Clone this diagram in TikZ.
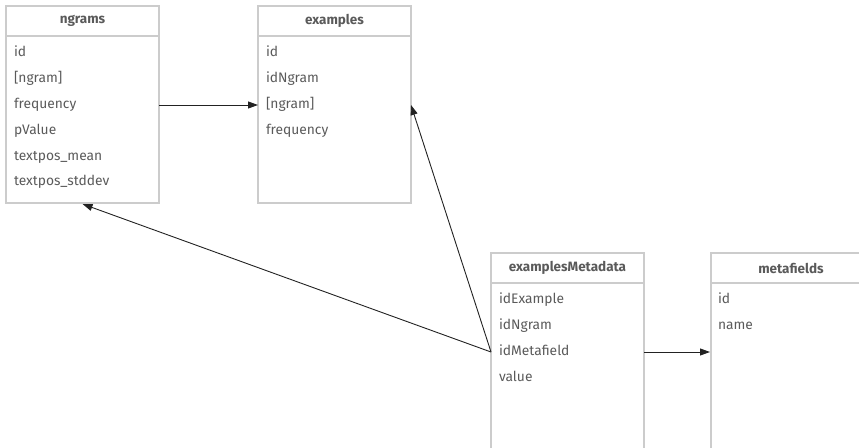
\documentclass[tikz,border=0pt]{standalone}
\usepackage{fontspec}
\setmainfont{Fira Sans}
\usetikzlibrary{arrows.meta,positioning}
\definecolor{tableline}{HTML}{CCCCCC}
\definecolor{fieldtext}{HTML}{5A5A5A}
\definecolor{linkdark}{HTML}{222222}

\tikzset{
  tablebox/.style={draw=tableline, line width=2pt, minimum width=153pt, anchor=north west, inner sep=0pt},
  tablehead/.style={draw=tableline, line width=2pt, minimum width=153pt, minimum height=30pt, inner sep=0pt,
    font=\fontsize{13.5}{15}\selectfont\bfseries, text=fieldtext, anchor=north},
  field/.style={text width=137pt, inner xsep=8pt, inner ysep=0pt, outer sep=0pt, text height=10pt, text depth=3pt,
    minimum height=25.8pt, align=left, font=\fontsize{13.8}{15}\selectfont, text=fieldtext},
  link/.style={->, linkdark, line width=0.9pt}
}

\begin{document}
\begin{tikzpicture}[x=1pt, y=-1pt, >={Triangle[length=10pt,width=7pt]}]

    \useasboundingbox (0,0) rectangle (859,447);
    \clip (0,0) rectangle (859,447);

    % Tables
    \node[tablebox, minimum height=197pt] (ngrams) at (5,5) {};
    \node[tablebox, minimum height=197pt] (examples) at (257,5) {};
    \node[tablebox, minimum height=200pt] (em) at (490,252) {};
    \node[tablebox, minimum height=200pt, minimum width=160pt] (metafields) at (710,252) {};

    % Headers
    \node[tablehead] (ngrams-h) at (ngrams.north) {ngrams};
    \node[tablehead] (examples-h) at (examples.north) {examples};
    \node[tablehead] (em-h) at (em.north) {examplesMetadata};
    \node[tablehead, minimum width=160pt] (metafields-h) at (metafields.north) {metafields};

    % Fields
    \node[field, below=3.5pt of ngrams-h] (ngrams-1) {id};
    \foreach \f [count=\i from 2, evaluate=\i as \j using int(\i-1)] in
        {{[ngram]}, frequency, pValue, textpos\_mean, textpos\_stddev}
        \node[field, below=0pt of ngrams-\j] (ngrams-\i) {\f};

    \node[field, below=3.5pt of examples-h] (examples-1) {id};
    \foreach \f [count=\i from 2, evaluate=\i as \j using int(\i-1)] in
        {idNgram, {[ngram]}, frequency}
        \node[field, below=0pt of examples-\j] (examples-\i) {\f};

    \node[field, below=3.5pt of em-h] (em-1) {idExample};
    \foreach \f [count=\i from 2, evaluate=\i as \j using int(\i-1)] in
        {idNgram, idMetafield, value}
        \node[field, below=0pt of em-\j] (em-\i) {\f};

    \node[field, below=3.5pt of metafields-h.south west, anchor=north west] (metafields-1) {id};
    \node[field, below=0pt of metafields-1] (metafields-2) {name};

    % Links
    \coordinate (metafields-in) at (metafields.west |- em-3.west);
    \draw[link] (ngrams-3.east) -- (examples-3.west);
    \draw[link] (em-3.west) -- (examples-3.east);
    \draw[link] (em-3.west) -- (ngrams.south);
    \draw[link] (em-3.east) -- (metafields-in);

\end{tikzpicture}
\end{document}
